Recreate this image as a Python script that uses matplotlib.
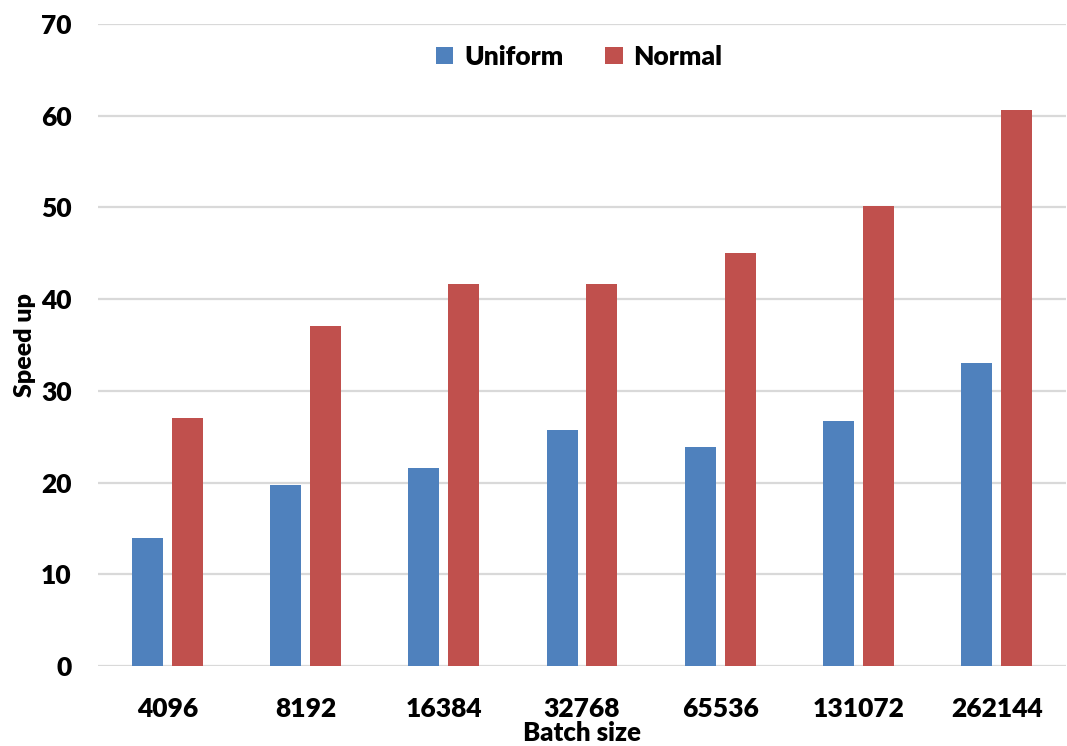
import numpy as np
import matplotlib.pyplot as plt

# ── Данные ─────────────────────────────────────────────────────────────────
batch_sizes = ["4096", "8192", "16384", "32768", "65536", "131072", "262144"]
uniform = [14.0, 19.7, 21.6, 25.7, 23.9, 26.7, 33.0]
normal = [27.1, 37.1, 41.6, 41.7, 45.0, 50.2, 60.6]

BLUE = "#4F81BD"
RED = "#C0504D"
GRID = "#D9D9D9"
WEIGHT = "heavy"

plt.rcParams["font.family"] = ["Lato", "DejaVu Sans"]

fig = plt.figure(figsize=(10.67, 7.46), dpi=100)
ax = fig.add_axes([0.092, 0.107, 0.907, 0.861])

x = np.arange(len(batch_sizes))
w = 0.224
off = 0.144
ax.bar(x - off, uniform, width=w, color=BLUE, label="Uniform", zorder=3)
ax.bar(x + off, normal, width=w, color=RED, label="Normal", zorder=3)

ax.set_xlim(-0.5, len(batch_sizes) - 0.5)
ax.set_ylim(0, 70)
ax.set_yticks(range(0, 71, 10))
ax.set_xticks(x)
ax.set_xticklabels(batch_sizes)
ax.yaxis.grid(True, color=GRID, linewidth=1.6, zorder=0)
ax.set_axisbelow(True)
for s in ax.spines.values():
    s.set_visible(False)
ax.tick_params(axis="both", length=0, labelsize=19)
ax.tick_params(axis="y", pad=19)
ax.tick_params(axis="x", pad=22)
for lbl in ax.get_xticklabels() + ax.get_yticklabels():
    lbl.set_fontweight(WEIGHT)

ax.set_xlabel("Batch size", fontsize=18.5, fontweight=WEIGHT, labelpad=0)
ax.set_ylabel("Speed up", fontsize=18, fontweight=WEIGHT, labelpad=4)

ax.legend(loc="center", bbox_to_anchor=(0.497, 0.949), ncol=2, frameon=False,
          prop={"size": 19, "weight": WEIGHT}, handlelength=0.65, handleheight=0.65,
          handletextpad=0.4, columnspacing=1.6)

fig.savefig("out.png", dpi=100)
